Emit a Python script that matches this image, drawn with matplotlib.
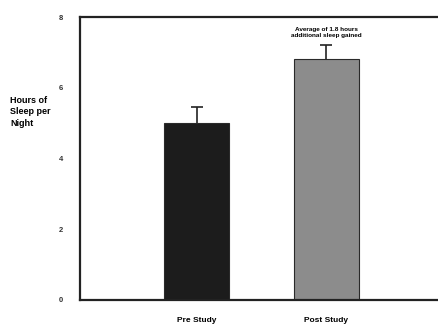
import matplotlib.pyplot as plt
import numpy as np

# data
groups = ['Pre Study', 'Post Study']
hours = [5.0, 6.8]
errors = [0.45, 0.4]
yticks = [0, 2, 4, 6, 8]
note = 'Average of 1.8 hours\nadditional sleep gained'

plt.rcParams['font.family'] = 'Liberation Sans'

fig = plt.figure(figsize=(4.39, 3.25), dpi=100)
# axes runs off the right edge like the scanned figure
ax = fig.add_axes([80 / 439, 25 / 325, 372 / 439, 283 / 325])

x = np.arange(len(groups))
ax.bar(x, hours, width=0.5, color=['#1c1c1c', '#8c8c8c'],
       edgecolor='#2a2a2a', linewidth=0.8, zorder=2)
# upper error bars only
eb = ax.errorbar(x, hours, yerr=[[0, 0], errors], fmt='none', ecolor='#222222',
                 elinewidth=1.2, capsize=4, capthick=1.2, zorder=1)
eb[1][0].set_visible(False)

ax.set_xlim(-0.9, 1.97)
ax.set_ylim(0, 8)
ax.set_yticks(yticks)
ax.set_yticklabels([str(t) for t in yticks], fontsize=5.5, fontweight='bold', color='#333333')
ax.tick_params(axis='y', length=0, pad=12)
ax.set_xticks(x)
ax.set_xticklabels(groups, fontsize=6, fontweight='bold')
ax.tick_params(axis='x', length=0, pad=12)

for s in ['left', 'top', 'bottom', 'right']:
    ax.spines[s].set_linewidth(1.6)
    ax.spines[s].set_color('#222222')

ax.text(x[1], hours[1] + errors[1] + 0.2, note, ha='center', va='bottom',
        fontsize=4.6, fontweight='bold')

fig.text(10 / 439, 1 - 112 / 325, 'Hours of\nSleep per\nNight', ha='left', va='center',
         fontsize=6.5, fontweight='bold', linespacing=1.3)

fig.savefig('out.png', dpi=100)
